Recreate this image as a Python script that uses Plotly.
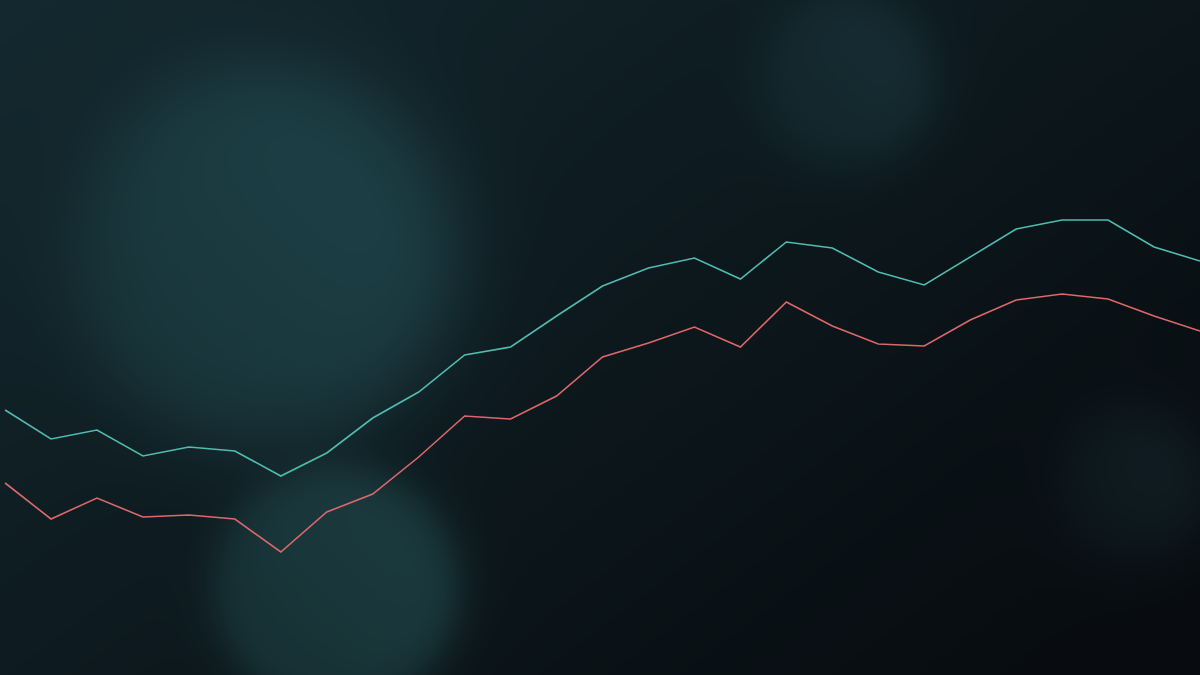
import numpy as np
import zlib, struct, base64
import plotly.graph_objects as go

# ---- data ----
periods = list(range(27))
series_teal = [53.0, 47.2, 49.0, 43.8, 45.6, 44.8, 39.8, 44.4, 51.4, 56.6, 64.0, 65.6, 71.8, 77.8, 81.4, 83.4,
               79.2, 86.6, 85.4, 80.6, 78.0, 83.6, 89.2, 91.0, 91.0, 85.6, 82.8]
series_red = [38.4, 31.2, 35.4, 31.6, 32.0, 31.2, 24.6, 32.6, 36.2, 43.6, 51.8, 51.2, 55.8, 63.6, 66.4, 69.6,
              65.6, 74.6, 69.8, 66.2, 65.8, 71.0, 75.0, 76.2, 75.2, 71.8, 68.8]

# ---- background (decorative: gradient + bokeh discs) ----
W, H = 1200, 675
yy, xx = np.mgrid[0:H, 0:W].astype(float)
t = np.clip(0.6 * xx / W + 0.45 * yy / H, 0, 1)
dark = np.array([8, 12, 16], float)
base_tl = np.array([20, 42, 48], float)
img = dark[None, None, :] + (base_tl - dark)[None, None, :] * ((1 - t) ** 1.15)[:, :, None]

blobs = [  # cx, cy, r, soft, rgb
    (265, 255, 188, 24, (29, 63, 69)),
    (845, 80, 86, 14, (22, 45, 51)),
    (335, 588, 122, 12, (27, 58, 62)),
    (1135, 485, 72, 16, (16, 29, 34)),
]
for cx, cy, r, s, col in blobs:
    d = np.sqrt((xx - cx) ** 2 + (yy - cy) ** 2)
    m = 1 / (1 + np.exp((d - r) / s))
    shade = 0.88 + 0.12 * np.clip(((xx - cx) - (yy - cy)) / (1.6 * r) + 0.5, 0, 1)
    c = np.array(col, float)[None, None, :] * shade[:, :, None]
    img = img * (1 - m[:, :, None]) + c * m[:, :, None]

img = np.clip(img, 0, 255).astype(np.uint8)

def png_bytes(a):
    h, w, _ = a.shape
    raw = b"".join(b"\x00" + a[i].tobytes() for i in range(h))
    def chunk(tag, data):
        c = struct.pack(">I", len(data)) + tag + data
        return c + struct.pack(">I", zlib.crc32(tag + data) & 0xffffffff)
    return (b"\x89PNG\r\n\x1a\n" + chunk(b"IHDR", struct.pack(">IIBBBBB", w, h, 8, 2, 0, 0, 0))
            + chunk(b"IDAT", zlib.compress(raw, 9)) + chunk(b"IEND", b""))

uri = "data:image/png;base64," + base64.b64encode(png_bytes(img)).decode()

fig = go.Figure()
fig.add_trace(go.Scatter(x=periods, y=series_teal, mode="lines",
                         line=dict(color="#50bcb0", width=1.6), hoverinfo="skip"))
fig.add_trace(go.Scatter(x=periods, y=series_red, mode="lines",
                         line=dict(color="#dc686b", width=1.6), hoverinfo="skip"))

fig.update_layout(
    width=1200, height=675,
    margin=dict(l=0, r=0, t=0, b=0),
    paper_bgcolor="#0a0e12", plot_bgcolor="rgba(0,0,0,0)",
    showlegend=False,
    xaxis=dict(range=[-0.11, 26.0], visible=False, fixedrange=True),
    yaxis=dict(range=[0, 135], visible=False, fixedrange=True),
    images=[dict(source=uri, xref="paper", yref="paper", x=0, y=1, sizex=1, sizey=1,
                 sizing="stretch", layer="below", xanchor="left", yanchor="top")],
)
fig.write_html("out.html", config={"displayModeBar": False},
               post_script="document.body.style.margin='0';document.body.style.overflow='hidden';document.body.style.background='#0a0e12';")
